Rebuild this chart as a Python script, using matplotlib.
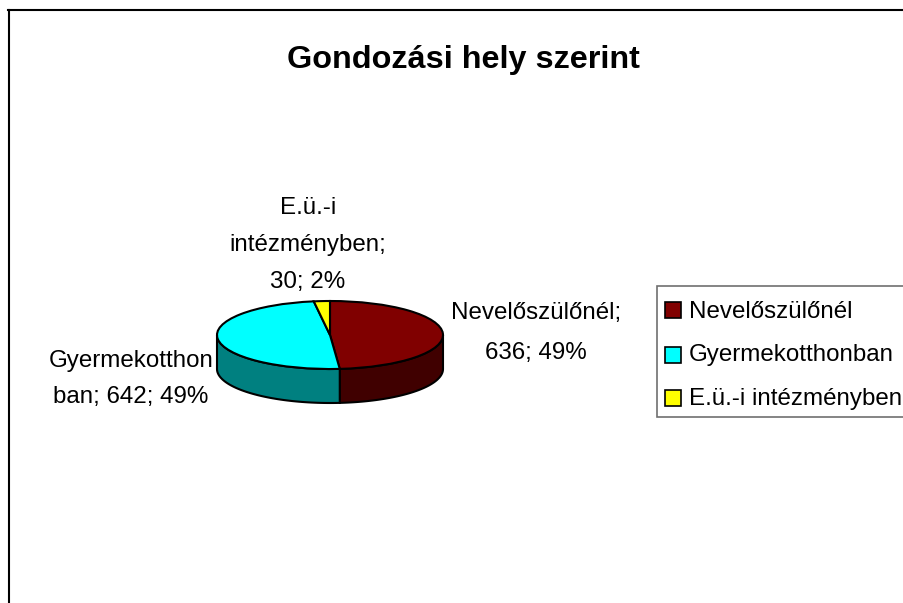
import matplotlib
matplotlib.use('Agg')
import matplotlib.pyplot as plt
import numpy as np
from matplotlib.patches import Rectangle
from matplotlib.lines import Line2D

W, H = 904, 603

categories = ['Nevelőszülőnél', 'Gyermekotthonban', 'E.ü.-i intézményben']
values = [636, 642, 30]
percents = [49, 49, 2]
top_colors = ['#800000', '#00FFFF', '#FFFF00']
side_colors = ['#400000', '#008080', '#808000']
title = 'Gondozási hely szerint'

plt.rcParams['font.family'] = ['Liberation Sans', 'DejaVu Sans']

def px(x, y):
    return x / W, 1 - y / H

fig = plt.figure(figsize=(W / 100, H / 100), dpi=100)
fig.patch.set_facecolor('white')

# chart frame, only left and top fall inside the picture
fig.add_artist(Line2D([8.5 / W, 8.5 / W], [0, 1 - 10 / H], color='black', lw=1.5))
fig.add_artist(Line2D([8 / W, 1], [1 - 10 / H, 1 - 10 / H], color='black', lw=1.5))

fig.text(*px(463.5, 60), title, fontsize=23.3, fontweight='bold', ha='center', va='center')

# pie axes: top ellipse 226x68 px, wall 34 px high
ax = fig.add_axes([217 / W, 1 - 403 / H, 226 / W, 102 / H])
ax.pie(values, colors=top_colors, startangle=90, counterclock=False, radius=1,
       wedgeprops={'edgecolor': 'black', 'linewidth': 1.5, 'zorder': 3})
ax.set_aspect('auto')
ax.set_xlim(-1, 1)
ax.set_ylim(-2, 1)
ax.axis('off')

fracs = np.array(values) / sum(values)
ends = np.cumsum(fracs) * 360
starts = ends - fracs * 360
for start, end, col in zip(starts, ends, side_colors):
    a = max(start, 90)
    b = min(end, 270)
    if b <= a:
        continue
    t = np.radians(90 - np.linspace(a, b, 60))
    xs = np.cos(t)
    ys = np.sin(t)
    ax.fill(np.r_[xs, xs[::-1]], np.r_[ys, ys[::-1] - 1], facecolor=col,
            edgecolor='black', linewidth=1.5, zorder=2, clip_on=False)

# data labels
label_fs = 17.4
fig.text(*px(308, 245), f'E.ü.-i\nintézményben;\n{values[2]}; {percents[2]}%',
         fontsize=label_fs, ha='center', va='center', linespacing=1.9)
fig.text(*px(536, 333), f'Nevelőszülőnél;\n{values[0]}; {percents[0]}%',
         fontsize=label_fs, ha='center', va='center', linespacing=2.1)
fig.text(*px(131, 379), f'Gyermekotthon\nban; {values[1]}; {percents[1]}%',
         fontsize=label_fs, ha='center', va='center', linespacing=1.8)

# legend
fig.add_artist(Rectangle((657 / W, 1 - 417 / H), 260 / W, 131 / H, transform=fig.transFigure,
                         facecolor='white', edgecolor='#707070', linewidth=1.2))
marker_y = [310, 355, 398]
text_y = [312, 355, 399]
for name, col, my, ty in zip(categories, top_colors, marker_y, text_y):
    fig.add_artist(Rectangle((665 / W, 1 - (my + 8) / H), 16 / W, 16 / H, transform=fig.transFigure,
                             facecolor=col, edgecolor='black', linewidth=1.2))
    fig.text(*px(689, ty), name, fontsize=label_fs, ha='left', va='center')

fig.savefig('out.png', dpi=100)
